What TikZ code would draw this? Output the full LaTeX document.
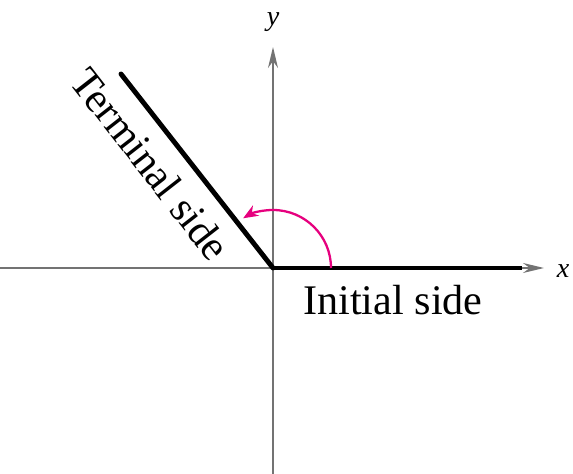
\documentclass[tikz,border=0pt]{standalone}
\usepackage{fontspec}
\setmainfont{Liberation Serif}
\usepackage{tikz}
\usetikzlibrary{arrows.meta, positioning, calc}
\definecolor{axisgray}{RGB}{115,115,115}
\definecolor{anglemag}{RGB}{230,0,126}

\begin{document}
\begin{tikzpicture}[
  every node/.style={font=\fontsize{24}{28}\selectfont},
  axis/.style={axisgray, line width=0.9pt, -{Stealth[length=0.42cm, width=0.2cm]}},
  side/.style={black, line width=2.8pt},
  turn/.style={anglemag, line width=1.3pt, -{Stealth[length=0.3cm, width=0.24cm]}},
]
  \useasboundingbox (-5.46,-4.12) rectangle (6.0,5.36);

  \coordinate (O) at (0,0);
  \coordinate (XL) at (-5.46,0);
  \coordinate (XR) at (5.42,0);
  \coordinate (YB) at (0,-4.12);
  \coordinate (YT) at (0,4.42);
  \coordinate (I) at (4.98,0);
  \coordinate (T) at (-3.04,3.88);

  % axes
  \draw[axis] (XL) -- (XR);
  \draw[axis] (YB) -- (YT);
  \node[font=\fontsize{16}{19}\selectfont\itshape] (xlab) at (5.8,-0.06) {x};
  \node[font=\fontsize{16}{19}\selectfont\itshape] (ylab) at (0.0,4.92) {y};

  % sides of the angle
  \draw[side] (O) -- (I);
  \draw[side, line cap=round] (O) -- (T);
  \node (init) at (2.4,-0.64) {Initial side};
  \node[rotate=-52] (term) at (-2.44,2.08) {Terminal side};

  % rotation
  \draw[turn] (1.16,0) arc[start angle=0, end angle=121, radius=1.16];
\end{tikzpicture}
\end{document}
